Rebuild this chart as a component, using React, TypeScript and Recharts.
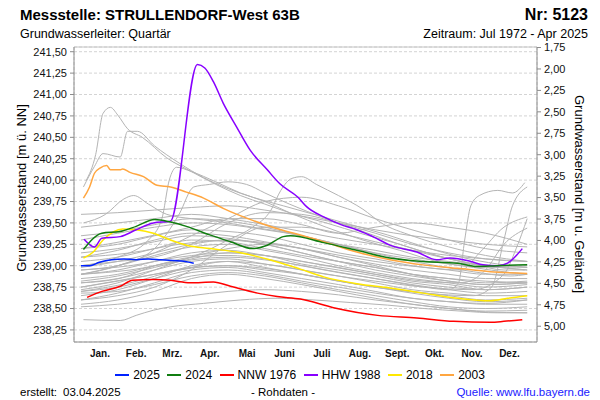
import { LineChart, Line, XAxis, YAxis, CartesianGrid, ReferenceLine } from "recharts";

// x = day of year (0 = 1. Jan.), y = Grundwasserstand in m ü. NN
const MONTH_STARTS = [0, 31, 59, 90, 120, 151, 181, 212, 243, 273, 304, 334, 365];
const MONTH_LABELS = ["Jan.", "Feb.", "Mrz.", "Apr.", "Mai", "Juni", "Juli", "Aug.", "Sept.", "Okt.", "Nov.", "Dez."];
const LEFT_TICKS = [241.5, 241.25, 241.0, 240.75, 240.5, 240.25, 240.0, 239.75, 239.5, 239.25, 239.0, 238.75, 238.5, 238.25];
const RIGHT_TICKS = [1.75, 2.0, 2.25, 2.5, 2.75, 3.0, 3.25, 3.5, 3.75, 4.0, 4.25, 4.5, 4.75, 5.0];

const X_DOMAIN = [-5.7, 372];
const LEFT_DOMAIN = [238.109, 241.555];
const RIGHT_DOMAIN = [1.744, 5.184];

// highlighted years [day, value]
const Y2025 = [[0, 239.0], [7, 239.0], [15, 239.04], [25, 239.07], [35, 239.08], [45, 239.07], [55, 239.08], [65, 239.07], [75, 239.06], [85, 239.05], [92, 239.03]];
const Y2024 = [[2, 239.19], [17, 239.38], [32, 239.4], [45, 239.46], [60, 239.54], [73, 239.51], [86, 239.46], [105, 239.36], [122, 239.28], [140, 239.2], [152, 239.24], [165, 239.34], [171, 239.35], [198, 239.27], [225, 239.18], [252, 239.09], [279, 239.05], [307, 239.03], [323, 238.99], [339, 239.0], [364, 239.01]];
const NNW1976 = [[5, 238.63], [17, 238.7], [32, 238.76], [42, 238.83], [59, 238.84], [73, 238.83], [89, 238.8], [108, 238.81], [122, 238.76], [144, 238.68], [160, 238.64], [179, 238.61], [206, 238.51], [242, 238.42], [274, 238.39], [304, 238.35], [334, 238.34], [345, 238.35], [360, 238.37]];
const HHW1988 = [[2.5, 239.31], [11, 239.22], [17, 239.32], [32, 239.34], [45, 239.42], [59, 239.5], [73, 239.52], [95, 241.35], [101, 241.31], [108, 241.15], [116, 240.9], [127, 240.62], [138, 240.35], [152, 240.12], [162, 239.96], [177, 239.8], [184, 239.69], [198, 239.57], [212, 239.48], [225, 239.42], [241, 239.32], [252, 239.24], [274, 239.16], [290, 239.07], [301, 239.09], [318, 239.05], [328, 239.01], [340, 239.0], [348, 239.03], [360, 239.2]];
const Y2018 = [[2, 239.09], [10, 239.16], [18, 239.3], [34, 239.43], [45, 239.42], [59, 239.38], [73, 239.3], [86, 239.24], [105, 239.2], [127, 239.16], [154, 239.07], [179, 238.96], [198, 238.87], [225, 238.79], [252, 238.74], [279, 238.68], [307, 238.62], [334, 238.59], [348, 238.62], [364, 238.65]];
const Y2003 = [[2, 239.79], [7, 239.92], [11, 240.08], [15.5, 240.14], [21, 240.17], [24, 240.12], [32, 240.12], [34, 240.13], [40, 240.09], [51, 240.04], [62, 239.94], [73, 239.92], [86, 239.86], [100, 239.79], [116, 239.67], [140, 239.53], [168, 239.4], [179, 239.36], [198, 239.28], [225, 239.16], [252, 239.07], [279, 239.01], [307, 238.97], [334, 238.93], [364, 238.91]];

// other years (grey), irregular shapes
const GRAY_FREE = [
  [[4, 239.99], [12, 240.3], [18, 240.78], [24, 240.85], [30, 240.76], [38, 240.6], [50, 240.5], [70, 240.26], [90, 240.1], [110, 239.95], [130, 239.82], [150, 239.72], [170, 239.62], [200, 239.5], [230, 239.37], [260, 239.25], [290, 239.12], [320, 239.02], [345, 238.95], [362, 238.95]],
  [[2, 239.92], [11, 240.16], [18, 240.31], [32, 240.27], [38, 240.57], [46, 240.57], [60, 240.4], [80, 240.2], [100, 240.03], [120, 239.9], [140, 239.8], [165, 239.7], [190, 239.6], [220, 239.48], [250, 239.36], [280, 239.22], [310, 239.1], [340, 239.02], [364, 238.98]],
  [[2, 239.5], [20, 239.6], [35, 239.78], [43, 239.82], [55, 239.72], [70, 239.6], [90, 239.55], [110, 239.52], [140, 239.45], [170, 239.38], [200, 239.28], [230, 239.18], [260, 239.08], [290, 239.0], [320, 238.93], [350, 238.88], [364, 238.9]],
  [[0, 239.0], [30, 239.1], [55, 239.3], [66, 239.55], [72, 240.0], [78, 240.15], [90, 240.1], [110, 239.98], [130, 239.85], [150, 239.75], [170, 239.62], [200, 239.45], [230, 239.3], [260, 239.18], [290, 239.05], [320, 238.98], [350, 238.92], [364, 238.9]],
  [[0, 238.9], [30, 239.0], [60, 239.2], [80, 239.6], [92, 239.92], [105, 239.95], [120, 239.98], [135, 239.95], [150, 239.85], [170, 239.72], [200, 239.55], [230, 239.4], [260, 239.25], [290, 239.12], [320, 239.02], [350, 238.97], [364, 238.95]],
  [[0, 238.8], [31, 238.85], [60, 239.0], [90, 239.1], [120, 239.3], [140, 239.45], [155, 239.65], [163, 239.88], [172, 240.02], [180, 240.04], [192, 239.95], [210, 239.82], [230, 239.66], [245, 239.5], [270, 239.35], [300, 239.22], [330, 239.12], [364, 239.05]],
  [[0, 239.2], [40, 239.3], [90, 239.45], [120, 239.55], [150, 239.55], [180, 239.48], [210, 239.38], [240, 239.45], [270, 239.5], [300, 239.45], [330, 239.38], [364, 239.25]],
  [[0, 238.9], [40, 238.95], [80, 239.05], [120, 239.1], [160, 239.05], [200, 238.95], [240, 238.85], [280, 238.75], [300, 238.72], [308, 238.8], [313, 239.3], [318, 239.7], [325, 239.82], [340, 239.88], [352, 239.85], [362, 239.97]],
  [[0, 238.7], [40, 238.8], [80, 238.95], [120, 239.0], [160, 238.95], [200, 238.85], [240, 238.75], [280, 238.68], [320, 238.65], [335, 238.75], [345, 239.3], [352, 239.7], [364, 239.92]],
  [[0, 238.75], [40, 238.85], [80, 238.95], [120, 239.05], [160, 239.0], [200, 238.9], [240, 238.82], [280, 238.75], [320, 238.72], [345, 238.9], [355, 239.2], [364, 239.55]],
  [[0, 238.95], [40, 239.0], [80, 239.1], [120, 239.15], [160, 239.1], [200, 239.0], [240, 238.9], [280, 238.82], [310, 238.8], [330, 238.95], [345, 239.25], [364, 239.44]],
  [[0, 239.1], [40, 239.15], [80, 239.25], [120, 239.3], [160, 239.25], [200, 239.15], [240, 239.05], [280, 238.98], [310, 238.95], [325, 239.15], [345, 239.45], [364, 239.57]],
  [[2, 238.37], [32, 238.36], [45, 238.42], [59, 238.48], [73, 238.52], [100, 238.56], [130, 238.6], [160, 238.62], [190, 238.6], [220, 238.57], [250, 238.54], [280, 238.5], [310, 238.47], [340, 238.45], [364, 238.45]],
];

// grey years sampled at common days
const GRAY_DAYS = [0, 30, 60, 90, 120, 150, 180, 210, 240, 270, 300, 330, 364];
const GRAY_VALUES = [
  [239.45, 239.5, 239.55, 239.6, 239.55, 239.48, 239.4, 239.32, 239.25, 239.18, 239.12, 239.08, 239.05],
  [239.3, 239.38, 239.45, 239.5, 239.48, 239.42, 239.35, 239.25, 239.18, 239.1, 239.05, 239.0, 238.98],
  [239.2, 239.25, 239.35, 239.42, 239.4, 239.35, 239.25, 239.15, 239.08, 239.0, 238.95, 238.9, 238.9],
  [239.1, 239.18, 239.3, 239.38, 239.35, 239.28, 239.2, 239.1, 239.02, 238.95, 238.9, 238.85, 238.85],
  [239.05, 239.1, 239.2, 239.3, 239.28, 239.2, 239.12, 239.05, 238.98, 238.9, 238.85, 238.82, 238.8],
  [238.95, 239.0, 239.12, 239.22, 239.25, 239.18, 239.1, 239.0, 238.92, 238.85, 238.8, 238.75, 238.78],
  [238.9, 238.95, 239.05, 239.15, 239.18, 239.12, 239.05, 238.98, 238.9, 238.82, 238.78, 238.72, 238.75],
  [238.85, 238.9, 239.0, 239.1, 239.12, 239.08, 239.0, 238.92, 238.85, 238.78, 238.72, 238.68, 238.7],
  [238.8, 238.85, 238.95, 239.05, 239.08, 239.02, 238.95, 238.88, 238.8, 238.72, 238.68, 238.65, 238.65],
  [238.75, 238.82, 238.9, 238.98, 239.0, 238.95, 238.9, 238.82, 238.75, 238.68, 238.62, 238.58, 238.6],
  [238.7, 238.75, 238.85, 238.95, 238.98, 238.92, 238.85, 238.78, 238.7, 238.62, 238.58, 238.55, 238.55],
  [238.68, 238.7, 238.78, 238.88, 238.92, 238.88, 238.8, 238.72, 238.65, 238.58, 238.52, 238.5, 238.52],
  [238.65, 238.72, 238.85, 239.0, 239.05, 238.98, 238.9, 238.82, 238.75, 238.7, 238.65, 238.6, 238.62],
  [238.55, 238.6, 238.7, 238.85, 238.9, 238.85, 238.78, 238.7, 238.62, 238.55, 238.5, 238.47, 238.48],
  [238.52, 238.55, 238.6, 238.65, 238.7, 238.72, 238.7, 238.66, 238.6, 238.55, 238.5, 238.46, 238.45],
  [238.72, 238.8, 238.95, 239.1, 239.2, 239.25, 239.2, 239.1, 239.0, 238.9, 238.82, 238.78, 238.8],
  [238.6, 238.65, 238.75, 238.95, 239.25, 239.45, 239.45, 239.38, 239.28, 239.18, 239.08, 239.0, 238.95],
  [239.0, 239.05, 239.1, 239.25, 239.5, 239.62, 239.6, 239.5, 239.38, 239.25, 239.15, 239.08, 239.05],
  [239.6, 239.62, 239.65, 239.68, 239.7, 239.65, 239.58, 239.5, 239.42, 239.35, 239.3, 239.25, 239.22],
  [238.9, 239.0, 239.15, 239.35, 239.55, 239.75, 239.8, 239.7, 239.55, 239.42, 239.3, 239.2, 239.15],
  [239.15, 239.2, 239.28, 239.35, 239.32, 239.25, 239.15, 239.05, 238.98, 238.9, 238.85, 238.8, 238.82],
  [238.98, 239.05, 239.15, 239.25, 239.3, 239.25, 239.15, 239.05, 238.95, 238.88, 238.82, 238.78, 238.8],
  [238.82, 238.88, 238.98, 239.08, 239.15, 239.12, 239.02, 238.95, 238.88, 238.8, 238.75, 238.72, 238.75],
  [239.35, 239.4, 239.48, 239.55, 239.52, 239.45, 239.35, 239.25, 239.15, 239.08, 239.02, 238.98, 239.0],
  [238.6, 238.68, 238.8, 238.92, 238.95, 238.9, 238.82, 238.75, 238.68, 238.62, 238.58, 238.56, 238.6],
];

const HIGHLIGHTS = [
  { name: "2003", color: "#ffa640", data: Y2003 },
  { name: "2018", color: "#ffe800", data: Y2018 },
  { name: "HHW 1988", color: "#8800ff", data: HHW1988 },
  { name: "NNW 1976", color: "#ff0000", data: NNW1976 },
  { name: "2024", color: "#107d10", data: Y2024 },
  { name: "2025", color: "#0022ff", data: Y2025 },
];
const LEGEND_ORDER = ["2025", "2024", "NNW 1976", "HHW 1988", "2018", "2003"];

const toRows = (pairs: number[][]) => pairs.map(([d, v]) => ({ d, v }));
const grayRows = [
  ...GRAY_FREE.map(toRows),
  ...GRAY_VALUES.map((vals) => vals.map((v, i) => ({ d: GRAY_DAYS[i], v }))),
];
const midMonths = MONTH_STARTS.slice(0, -1).map((s, i) => (s + MONTH_STARTS[i + 1]) / 2);
const fmt = (v: number) => v.toFixed(2).replace(".", ",");

const FRAME = "#8c8c8c";
const FONT = "'Liberation Sans', Arial, sans-serif";

export default function App() {
  return (
    <div style={{ position: "absolute", left: 0, top: 0, width: 600, height: 400, background: "#fff", fontFamily: FONT }}>
      <LineChart width={600} height={400} data={grayRows[0]} margin={{ top: 47, right: 11, bottom: 33, left: 20 }}>
        <CartesianGrid xAxisId="g" yAxisId="left" stroke="#d4d4d4" strokeDasharray="3 2" />
        <XAxis
          xAxisId="g"
          type="number"
          dataKey="d"
          domain={X_DOMAIN}
          ticks={MONTH_STARTS}
          interval={0}
          allowDataOverflow
          tick={false}
          tickSize={5}
          height={5}
          axisLine={{ stroke: FRAME }}
          tickLine={{ stroke: FRAME }}
        />
        <XAxis
          xAxisId="m"
          type="number"
          dataKey="d"
          domain={X_DOMAIN}
          ticks={midMonths}
          interval={0}
          allowDataOverflow
          tickFormatter={(_v: number, i: number) => MONTH_LABELS[i]}
          axisLine={false}
          tickLine={false}
          tickSize={0}
          tickMargin={3}
          height={20}
          tick={{ fontSize: 10, fontWeight: "bold", fill: "#111", fontFamily: FONT }}
        />
        <YAxis
          yAxisId="left"
          orientation="left"
          width={54}
          type="number"
          domain={LEFT_DOMAIN}
          ticks={LEFT_TICKS}
          interval={0}
          allowDataOverflow
          tickFormatter={fmt}
          tickSize={4}
          tickMargin={3}
          axisLine={{ stroke: FRAME }}
          tickLine={{ stroke: FRAME }}
          tick={{ fontSize: 11, fill: "#111", fontFamily: FONT }}
        />
        <YAxis
          yAxisId="right"
          orientation="right"
          width={52}
          type="number"
          reversed
          domain={RIGHT_DOMAIN}
          ticks={RIGHT_TICKS}
          interval={0}
          allowDataOverflow
          tickFormatter={fmt}
          tickSize={4}
          tickMargin={3}
          axisLine={{ stroke: FRAME }}
          tickLine={{ stroke: FRAME }}
          tick={{ fontSize: 11, fill: "#111", fontFamily: FONT }}
        />
        <ReferenceLine xAxisId="g" yAxisId="left" y={LEFT_DOMAIN[1]} stroke="#c4c4c4" />
        {grayRows.map((rows, i) => (
          <Line
            key={"g" + i}
            xAxisId="g"
            yAxisId="left"
            data={rows}
            dataKey="v"
            type="monotone"
            stroke="#b4b4b4"
            strokeWidth={1}
            dot={false}
            isAnimationActive={false}
          />
        ))}
        {HIGHLIGHTS.map((s) => (
          <Line
            key={s.name}
            xAxisId="g"
            yAxisId="left"
            data={toRows(s.data)}
            dataKey="v"
            name={s.name}
            type="monotone"
            stroke={s.color}
            strokeWidth={1.5}
            dot={false}
            isAnimationActive={false}
          />
        ))}
      </LineChart>

      <svg width={600} height={400} style={{ position: "absolute", left: 0, top: 0, pointerEvents: "none" }} fontFamily={FONT}>
        <text x={20} y={20} fontSize={15} fontWeight="bold" fill="#000">Messstelle: STRULLENDORF-West 63B</text>
        <text x={588} y={20} fontSize={16} fontWeight="bold" fill="#000" textAnchor="end">Nr: 5123</text>
        <text x={20} y={38} fontSize={12.5} fill="#000">Grundwasserleiter: Quartär</text>
        <text x={588} y={38} fontSize={12.5} fill="#000" textAnchor="end">Zeitraum: Jul 1972 - Apr 2025</text>
        <text transform="translate(25.5,188) rotate(-90)" fontSize={13} fill="#000" textAnchor="middle">Grundwasserstand [m ü. NN]</text>
        <text transform="translate(574.5,194) rotate(90)" fontSize={13} fill="#000" textAnchor="middle">Grundwasserstand [m u. Gelände]</text>
        <text x={20} y={396} fontSize={11.5} fill="#000">erstellt:</text>
        <text x={63} y={396} fontSize={11.5} fill="#000">03.04.2025</text>
        <text x={283} y={396} fontSize={11.5} fill="#000" textAnchor="middle">- Rohdaten -</text>
        <text x={590} y={396} fontSize={11.5} fill="#1a1aff" textAnchor="end">Quelle: www.lfu.bayern.de</text>
      </svg>

      <div style={{ position: "absolute", left: 0, top: 367, width: 600, display: "flex", justifyContent: "center", gap: 7.5, fontSize: 12, lineHeight: "16px", color: "#000" }}>
        {LEGEND_ORDER.map((name) => {
          const s = HIGHLIGHTS.find((h) => h.name === name)!;
          return (
            <div key={name} style={{ display: "flex", alignItems: "center" }}>
              <svg width={14} height={16} style={{ marginRight: 4 }}>
                <line x1={0} x2={14} y1={8} y2={8} stroke={s.color} strokeWidth={2} />
              </svg>
              <span>{name}</span>
            </div>
          );
        })}
      </div>
    </div>
  );
}
